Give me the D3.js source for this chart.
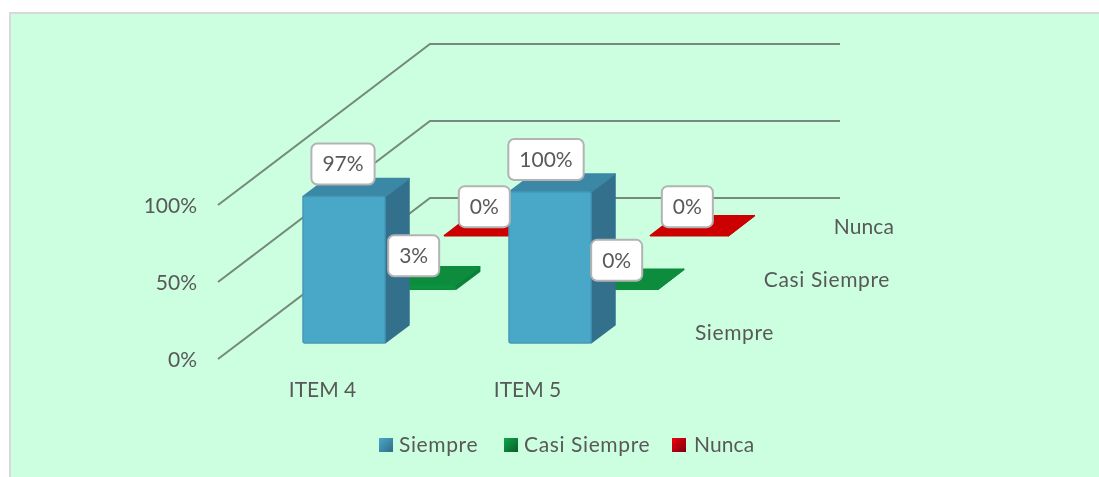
<!DOCTYPE html>
<html><head><meta charset="utf-8">
<script src="https://cdn.jsdelivr.net/npm/d3@7"></script>
<style>html,body{margin:0;padding:0;background:#fff;overflow:hidden}svg{display:block}
text{font-family:Lato,"Open Sans",sans-serif;fill:#595959}</style></head><body>
<svg id="c" width="1099" height="477"></svg>
<script>
const categories = ["ITEM 4", "ITEM 5"];
const seriesNames = ["Siempre", "Casi Siempre", "Nunca"];
const siempre = [0.97, 1.00];
const casiSiempre = [0.03, 0.00];
const nunca = [0.00, 0.00];
const tickValues = [0, 0.5, 1];
const seriesValues = [siempre, casiSiempre, nunca];

const palette = [
  {front:"#4AA8C8", edge:"#4398B8", top:"#3B87A6", side:"#33708C", lg:["#4AA8C8","#2F6C8A"]},
  {front:"#0B9440", edge:"#0A8C3C", top:"#0A8C3C", side:"#08803A", lg:["#12A54C","#075C27"]},
  {front:"#D00008", edge:"#B80007", top:"#CC0006", side:"#B00006", lg:["#F00010","#7A0008"]}
];
const W = 1099, H = 477;
const svg = d3.select("#c");
const defs = svg.append("defs");
defs.append("filter").attr("id","soft").append("feGaussianBlur").attr("stdDeviation",0.5);
defs.append("filter").attr("id","soft2").append("feGaussianBlur").attr("stdDeviation",0.3);

// panel
svg.append("rect").attr("x",0).attr("y",0).attr("width",W).attr("height",H).attr("fill","#fff");
svg.append("rect").attr("x",11).attr("y",14).attr("width",W-11).attr("height",H-14).attr("fill","#CCFFE0");
svg.append("path").attr("d",`M10,${H}V13H${W}`).attr("fill","none").attr("stroke","#D9D9D9").attr("stroke-width",2);

// scales: oblique projection
const y = d3.scaleLinear().domain([0,1]).range([359,205]);
const barY = d3.scaleLinear().domain([0,1]).range([0,151]);
const x = d3.scaleBand().domain(categories).range([218,628]);
const depth = d3.scalePoint().domain(seriesNames).range([0,2]);
const slotX = 70.67, slotY = 53.67, backX = 212, backY = 161;

// walls
const wall = svg.append("g").attr("filter","url(#soft2)");
wall.selectAll("path").data(tickValues).join("path")
  .attr("d", d => d3.line()([[218,y(d)],[218+backX,y(d)-backY],[628+backX,y(d)-backY]]))
  .attr("fill","none").attr("stroke","#75897C").attr("stroke-width",2);

const textLayer = svg.append("g").attr("filter","url(#soft2)");

// value axis
const yAxis = textLayer.append("g").attr("transform","translate(218,1)")
  .call(d3.axisLeft(y).tickValues(tickValues).tickSize(0).tickPadding(21).tickFormat(d3.format(".0%")));
yAxis.select(".domain").remove();
yAxis.selectAll("text").attr("font-size",21).style("font-family","Lato,sans-serif").style("fill","#595959");

// category axis
const xAxis = textLayer.append("g").attr("transform","translate(2,382)")
  .call(d3.axisBottom(x).tickSize(0).tickPadding(0));
xAxis.select(".domain").remove();
xAxis.selectAll("text").attr("font-size",21).attr("dy","0.71em").style("font-family","Lato,sans-serif").style("fill","#595959");

// depth labels
const spacing = d => d.length > 5 ? 0.62 : 0.1;
const depthRight = {"Siempre":774,"Casi Siempre":890,"Nunca":894};
const depthY = {"Siempre":340,"Casi Siempre":287,"Nunca":234};
textLayer.append("g").selectAll("text").data(seriesNames).join("text")
  .attr("x",d=>depthRight[d]).attr("y",d=>depthY[d]).attr("text-anchor","end")
  .attr("letter-spacing",spacing).attr("font-size",21).text(d=>d);

// bars, back series first
const marks = svg.append("g");
const labelData = [];
const P = pts => pts.map(p=>p.join(",")).join(" ");
[2,1,0].forEach(s => {
  categories.forEach((cat,c) => {
    const v = seriesValues[s][c];
    const d = depth(seriesNames[s]);
    const flat = v === 0;
    const left = x(cat) + 85 + (c===1?1:0) + d*slotX;
    const barW = flat && c===1 ? 78 : 82;
    const sx = flat ? 26 : 24, sy = flat ? 20 : 18;
    const bottom = 343 - d*slotY;
    const h = barY(v), top = bottom - h;
    const g = marks.append("g").attr("filter","url(#soft)");
    const col = palette[s];
    const stroke = (el,c2) => el.attr("stroke",c2).attr("stroke-width",1.5).attr("stroke-linejoin","round");
    stroke(g.append("polygon").attr("points",P([[left+barW,bottom],[left+barW+sx,bottom-sy],[left+barW+sx,top-sy],[left+barW,top]])).attr("fill",col.side),col.side);
    stroke(g.append("polygon").attr("points",P([[left,top],[left+barW,top],[left+barW+sx,top-sy],[left+sx,top-sy]])).attr("fill",col.top),col.top);
    if (h>0) stroke(g.append("rect").attr("x",left).attr("y",top).attr("width",barW).attr("height",h).attr("rx",2).attr("fill",col.front),col.edge);
    labelData.push({v, cx:left+41+(c===0?-1:-4), cy:top-(s===0?32.5:29)});
  });
});

// data labels above all bars
const fmt = d3.format(".0%");
const lab = svg.append("g");
labelData.forEach(d => {
  const g = lab.append("g").attr("transform",`translate(${d.cx},${d.cy})`);
  const t = g.append("text").attr("text-anchor","middle").attr("dy","0.35em").attr("font-size",21).text(fmt(d.v));
  const w = t.node().getComputedTextLength() + 22;
  g.insert("rect","text").attr("x",-w/2).attr("y",-20.5).attr("width",w).attr("height",41)
    .attr("rx",6).attr("fill","#fff").attr("stroke","#B3B3B3").attr("stroke-width",2);
});

// legend
const legendX = [378, 503, 671];
const legendText = [21, 21, 23];
const grad = defs.selectAll("linearGradient").data(palette).join("linearGradient")
  .attr("id",(d,i)=>"lg"+i).attr("x1",0).attr("y1",0).attr("x2",1).attr("y2",1);
grad.append("stop").attr("offset","0%").attr("stop-color",d=>d.lg[0]);
grad.append("stop").attr("offset","100%").attr("stop-color",d=>d.lg[1]);
const leg = svg.append("g").selectAll("g").data(seriesNames).join("g")
  .attr("transform",(d,i)=>`translate(${legendX[i]},0)`);
leg.append("rect").attr("x",1).attr("y",438).attr("width",14).attr("height",14)
  .attr("fill",(d,i)=>`url(#lg${i})`).attr("filter","url(#soft)");
leg.append("text").attr("x",(d,i)=>legendText[i]).attr("y",452).attr("font-size",21)
  .attr("letter-spacing",spacing).attr("filter","url(#soft2)").text(d=>d);
</script></body></html>
